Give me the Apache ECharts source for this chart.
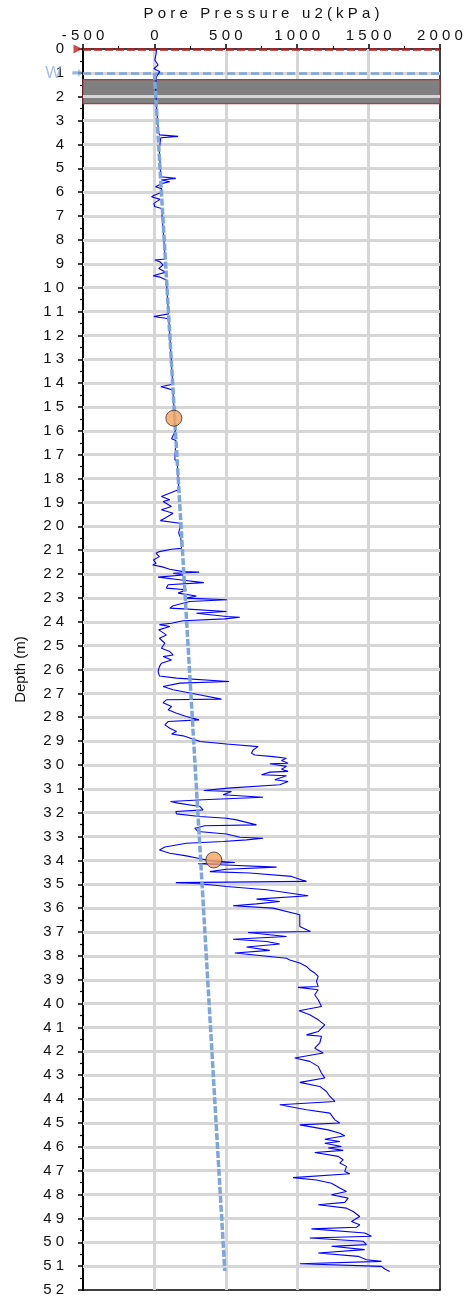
<!DOCTYPE html>
<html>
<head>
<meta charset="utf-8">
<script src="https://cdn.jsdelivr.net/npm/echarts@6/dist/echarts.min.js"></script>
<style>
  html, body { margin: 0; padding: 0; background: #fff; }
  #chart { width: 463px; height: 1298px; }
</style>
</head>
<body>
<div id="chart"></div>
<script>
let u2Top = [
  [0.0, 15], [0.2, 12], [0.46, 3], [0.67, 26], [0.82, -4], [0.95, 38], [1.16, 15],
  [1.5, 8], [2.0, 12], [2.5, 16], [3.0, 22], [3.4, 28], [3.6, 35], [3.66, 166],
  [3.72, 45], [4.2, 34], [4.8, 40], [5.35, 44], [5.42, 150], [5.49, 48], [5.56, 108],
  [5.63, 55], [5.77, 8], [5.85, 50], [6.0, 52], [6.12, 3], [6.19, -20], [6.3, 40],
  [6.47, -4], [6.6, 2], [6.68, 50], [7.5, 60], [8.3, 70], [8.8, 76], [8.84, 3],
  [8.92, 40], [9.05, 60], [9.2, 30], [9.35, 80], [9.5, -8], [9.56, 40], [9.68, 84]
];
let u2Upper = [
  [10.5, 92], [11.1, 99], [11.21, -4], [11.3, 101], [12.0, 108], [13.0, 118],
  [14.05, 128], [14.15, 45], [14.22, 92], [14.3, 129], [15.0, 137], [16.0, 147],
  [16.33, 120], [16.4, 151], [17.2, 143], [17.3, 160], [18.0, 166], [18.45, 172],
  [18.5, 154], [18.75, 49], [18.89, 108], [18.96, 61], [19.17, 119], [19.31, 49],
  [19.45, 131], [19.66, 73], [19.76, 42], [19.87, 178], [20.0, 180]
];
let u2Middle = [
  [20.29, 170], [20.5, 185], [20.92, 190], [20.96, 120], [21.06, 35], [21.13, 12],
  [21.27, 35], [21.41, -7], [21.55, 12], [21.62, -12], [21.69, 49], [21.8, 108],
  [21.9, 201], [21.92, 313], [21.97, 131], [22.04, 201], [22.13, 26], [22.25, 189],
  [22.36, 346], [22.45, 96], [22.59, 84], [22.66, 224], [22.8, 166], [22.92, 294],
  [23.01, 224], [23.08, 509], [23.15, 248], [23.33, 131], [23.43, 108], [23.47, 236],
  [23.57, 505], [23.64, 294], [23.78, 505], [23.81, 598], [23.88, 493], [23.96, 201],
  [24.06, 120], [24.12, 35], [24.2, 108], [24.34, 30], [24.55, 84], [24.69, 35],
  [24.9, 73], [25.11, 49], [25.25, 108], [25.39, 131], [25.46, 61], [25.6, 120],
  [25.74, 49], [25.88, 35], [26.09, 26], [26.27, 35], [26.36, 155], [26.5, 523],
  [26.57, 178], [26.71, 61], [26.85, 131], [27.06, 313], [27.24, 470], [27.27, 84],
  [27.39, 61], [27.55, 120], [27.69, 96], [27.83, 155], [27.97, 224], [28.11, 313],
  [28.18, 96], [28.32, 73], [28.46, 108], [28.6, 155], [28.7, 120], [28.78, 201],
  [28.95, 290], [29.02, 320], [29.12, 505], [29.23, 726], [29.3, 715]
];
let u2Lower = [
  [29.37, 691], [29.51, 680], [29.58, 703], [29.65, 831], [29.72, 925], [29.81, 890],
  [29.93, 936], [29.95, 808], [30.06, 925], [30.18, 890], [30.27, 936], [30.3, 808],
  [30.41, 750], [30.45, 925], [30.62, 843], [30.69, 936], [30.83, 878], [30.97, 516],
  [31.07, 346], [31.11, 540], [31.25, 481], [31.35, 761], [31.46, 341], [31.53, 113],
  [31.6, 166], [31.74, 318], [31.88, 341], [31.95, 150], [32.05, 155], [32.16, 318],
  [32.23, 505], [32.3, 575], [32.51, 715], [32.55, 353], [32.65, 283], [32.79, 306],
  [32.89, 505], [33.03, 598], [33.07, 761], [33.14, 645], [33.21, 481], [33.28, 224],
  [33.44, 73], [33.56, 35], [33.7, 108], [33.81, 224], [33.91, 306], [34.01, 388],
  [34.09, 563], [34.14, 306], [34.18, 458], [34.28, 855], [34.37, 505], [34.47, 388],
  [34.53, 668], [34.67, 960], [34.88, 1065], [34.93, 150], [34.98, 318], [35.09, 505],
  [35.23, 785], [35.48, 1077], [35.62, 715], [35.72, 878], [35.82, 715], [35.9, 551],
  [36.0, 831], [36.28, 1018], [36.63, 1018], [36.77, 1018], [36.98, 1093], [37.02, 656],
  [37.19, 925], [37.3, 551], [37.4, 785], [37.5, 878], [37.63, 645], [37.77, 808],
  [37.88, 563], [38.1, 925]
];
let u2Deep = [
  [38.17, 948], [38.3, 1018], [38.44, 1065], [38.58, 1088], [38.72, 1123], [38.86, 1147],
  [39.07, 1135], [39.28, 1147], [39.32, 1006], [39.42, 1147], [39.63, 1123], [39.84, 1147],
  [40.12, 1170], [40.3, 1013], [40.47, 1088], [40.68, 1147], [40.89, 1193], [41.17, 1147],
  [41.31, 1065], [41.37, 1170], [41.65, 1158], [41.87, 1123], [42.07, 1182], [42.28, 983],
  [42.42, 1088], [42.63, 1147], [42.91, 1170], [43.12, 1193], [43.3, 1018], [43.47, 1158],
  [43.68, 1205], [43.89, 1229], [44.1, 1264], [44.24, 878], [44.45, 1065], [44.59, 1229],
  [44.87, 1264], [45.0, 1298], [45.08, 1018], [45.29, 1217]
];
let u2Bottom = [
  [45.43, 1298], [45.54, 1333], [45.68, 1193], [45.78, 1298], [45.85, 1193], [45.99, 1310],
  [46.05, 1217], [46.15, 1322], [46.24, 1123], [46.4, 1287], [46.54, 1322], [46.68, 1298],
  [46.82, 1345], [47.03, 1333], [47.13, 1368], [47.29, 971], [47.39, 1135], [47.53, 1240],
  [47.73, 1298], [47.87, 1345], [48.01, 1240], [48.15, 1357], [48.33, 1333], [48.43, 1147],
  [48.57, 1345], [48.71, 1392], [48.92, 1438], [49.13, 1380], [49.27, 1438], [49.37, 1415],
  [49.44, 1100], [49.61, 1473], [49.75, 1520], [49.82, 1088], [49.96, 1462], [50.1, 1485],
  [50.17, 1240], [50.31, 1473], [50.45, 1147], [50.59, 1427], [50.73, 1485], [50.8, 1590],
  [50.9, 1018], [51.01, 1590], [51.12, 1613], [51.22, 1648]
];

// hydrostatic line end points [depth, u0]
let hydroLine = [[1.0, 0], [51.2, 493]];
// dissipation test points [depth, u]
let testPoints = [[15.47, 136], [33.98, 416]];
// water level and ground level depths
let waterDepth = 1.0;
let groundDepth = 0;
// grey layer [top, bottom]
let layerBand = [1.28, 2.29];

let xMin = -500, xMax = 2000, xStep = 500;
let yMin = 0, yMax = 52, yStep = 1;
let xTitle = 'Pore Pressure u2(kPa)';
let yTitle = 'Depth (m)';

let font = "'Liberation Sans', Arial, sans-serif";
let gridColor = '#d6d6d6';
let spaced = function (s) { return String(s).split('').join(' '); };
let flip = function (arr) { return arr.map(function (p) { return [p[1], p[0]]; }); };

let u2Data = flip([].concat(u2Top, u2Upper, u2Middle, u2Lower, u2Deep, u2Bottom));

// grid lines at the axis ticks (drawn as mark lines, splitLine did not show up)
let gridMarks = [];
for (let v = xMin + xStep; v < xMax; v += xStep) gridMarks.push({ xAxis: v });
for (let d = yMin + yStep; d < yMax; d += yStep) gridMarks.push({ yAxis: d });

let chartDom = document.getElementById('chart');
let myChart = echarts.init(chartDom, null, { renderer: 'canvas' });

let option = {
  animation: false,
  grid: {
    left: 83, right: 23, top: 49, bottom: 8,
    outerBoundsMode: 'none', containLabel: false
  },
  xAxis: [
    {
      type: 'value', position: 'top',
      min: xMin, max: xMax, interval: xStep,
      name: spaced(xTitle), nameLocation: 'middle', nameGap: 28,
      nameTextStyle: { fontFamily: font, fontSize: 15, color: '#111' },
      axisLine: { show: true, onZero: false, lineStyle: { color: '#000', width: 1.5 } },
      axisTick: { show: true, length: 5, lineStyle: { color: '#000', width: 1.5 } },
      minorTick: { show: true, splitNumber: 2, length: 3, lineStyle: { color: '#000', width: 1 } },
      axisLabel: { fontFamily: font, fontSize: 15, color: '#111', margin: 6, formatter: spaced },
      splitLine: { show: false }
    },
    {
      // bottom frame line
      type: 'value', position: 'bottom',
      min: xMin, max: xMax, interval: xStep,
      axisLine: { show: true, onZero: false, lineStyle: { color: '#000', width: 1.5 } },
      axisTick: { show: false }, axisLabel: { show: false },
      splitLine: { show: false }
    }
  ],
  yAxis: [
    {
      type: 'value', inverse: true,
      min: yMin, max: yMax, interval: yStep,
      name: yTitle, nameLocation: 'middle', nameGap: 55,
      nameTextStyle: { fontFamily: font, fontSize: 15, color: '#111' },
      axisLine: { show: true, onZero: false, lineStyle: { color: '#000', width: 2 } },
      axisTick: { show: true, length: 5, lineStyle: { color: '#000', width: 1.5 } },
      minorTick: { show: true, splitNumber: 2, length: 3, lineStyle: { color: '#000', width: 1.2 } },
      axisLabel: { fontFamily: font, fontSize: 15, color: '#111', margin: 19, formatter: spaced },
      splitLine: { show: false }
    },
    {
      // right frame line
      type: 'value', inverse: true, position: 'right',
      min: yMin, max: yMax, interval: yStep,
      axisLine: { show: true, onZero: false, lineStyle: { color: '#000', width: 1.5 } },
      axisTick: { show: false }, axisLabel: { show: false },
      splitLine: { show: false }
    }
  ],
  series: [
    {
      // grid lines
      type: 'line', data: [], z: 1,
      markLine: {
        z: 1, silent: true, symbol: 'none', label: { show: false },
        lineStyle: { color: gridColor, width: 3, type: 'solid' },
        data: gridMarks
      }
    },
    {
      // layer band and reference lines
      type: 'line', data: [], z: 2,
      markArea: {
        z: 2, silent: true,
        itemStyle: { color: '#808080', borderColor: '#b03a3a', borderWidth: 1.2 },
        data: [[{ xAxis: xMin, yAxis: layerBand[0] }, { xAxis: xMax, yAxis: layerBand[1] }]]
      },
      markLine: {
        z: 2, silent: true, symbol: 'none', label: { show: false },
        data: [
          { yAxis: 2, lineStyle: { color: gridColor, width: 3, type: 'solid' } },
          { yAxis: groundDepth, lineStyle: { color: '#b22222', width: 2.5, type: [8, 3] } },
          { yAxis: waterDepth, lineStyle: { color: '#7ea6da', width: 2.5, type: [8, 4] } }
        ]
      }
    },
    {
      name: 'u2', type: 'line', data: u2Data, z: 3,
      showSymbol: false, symbol: 'none',
      lineStyle: { color: '#0000ff', width: 1.1 }
    },
    {
      name: 'u0', type: 'line', data: flip(hydroLine), z: 4,
      showSymbol: false, symbol: 'none',
      lineStyle: { color: '#7ea6da', width: 3.5, type: [7, 2] }
    },
    {
      name: 'tests', type: 'scatter', data: flip(testPoints), z: 5,
      symbolSize: 16,
      itemStyle: { color: '#f5a15c', borderColor: '#333', borderWidth: 1 }
    },
    {
      // ground level marker
      type: 'scatter', data: [[-535, groundDepth]], clip: false, z: 6,
      symbol: 'triangle', symbolRotate: -90, symbolSize: [9, 9],
      itemStyle: { color: '#c0201e' }
    },
    {
      // water level marker
      type: 'scatter', data: [[-540, waterDepth]], clip: false, z: 6,
      symbol: 'path://M0,3 L6,3 L6,0 L10,5 L6,10 L6,7 L0,7 Z', symbolSize: [10, 8],
      itemStyle: { color: '#7ea6da' },
      label: {
        show: true, position: 'left', distance: 11, formatter: 'W',
        fontFamily: font, fontSize: 17, color: '#8db3e2'
      }
    }
  ]
};

option && myChart.setOption(option);
</script>
</body>
</html>
